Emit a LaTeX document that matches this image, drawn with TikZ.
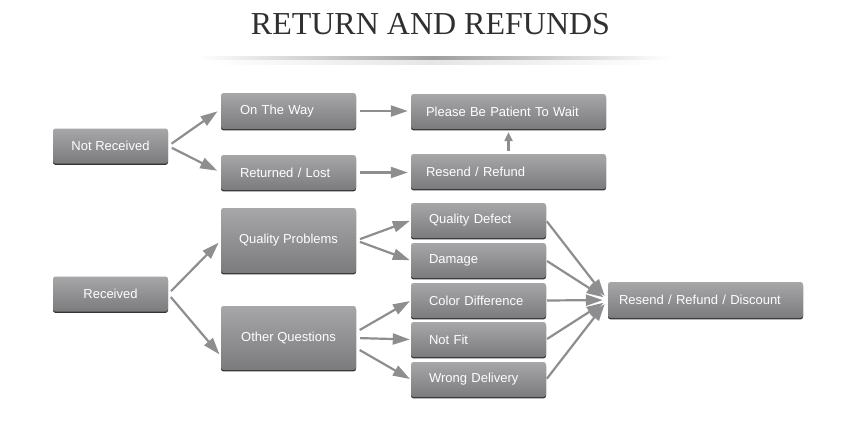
\documentclass[tikz,border=0pt]{standalone}
\usepackage{fontspec}
\usetikzlibrary{arrows.meta,shadows}
\newfontfamily\boxfont{Liberation Sans}
\newfontfamily\titlefont{Liberation Serif}
\definecolor{boxTop}{HTML}{A7A6A8}
\definecolor{boxBottom}{HTML}{7B7A7C}
\definecolor{arrowGray}{HTML}{8E8D8F}
\definecolor{titleGray}{HTML}{303030}

\begin{document}
\begin{tikzpicture}[x=1pt,y=-1pt,%%
  boxStyle/.style={rounded corners=2.5pt,top color=boxTop,bottom color=boxBottom,
    text=white,font=\boxfont\fontsize{13}{15}\selectfont,inner ysep=0pt,
    minimum height=35pt,
    drop shadow={shadow xshift=0pt,shadow yshift=-1.4pt,fill=black!80,opacity=1}},
  midBoxStyle/.style={boxStyle,align=center,inner xsep=0pt,minimum width=#1},
  padBoxStyle/.style 2 args={boxStyle,align=left,inner xsep=#2,text width=#1},
  arrowStyle/.style={-{Triangle[length=17pt,width=11pt]},line width=2.2pt,
    draw=arrowGray,shorten <=4pt,shorten >=1pt},
  upArrowStyle/.style={-{Triangle[length=9pt,width=8pt]},line width=2.2pt,
    draw=arrowGray,shorten <=3pt,shorten >=3pt},
  titleStyle/.style={font=\titlefont\fontsize{32}{36}\selectfont,text=titleGray,
    anchor=base,inner sep=0pt}
]
%%
%%
\useasboundingbox (0,0) rectangle (859,424);
\pgfmathsetmacro{\smallW}{135}
\pgfmathsetmacro{\wideW}{195}
\pgfmathsetmacro{\wayTW}{\smallW-2*19}
\pgfmathsetmacro{\waitTW}{\wideW-2*15}
\pgfmathsetmacro{\causeTW}{\smallW-2*18}
\pgfmathsetmacro{\endTW}{\wideW-2*11}
%%
%% The title and the shadow line below it.
%%
\node[titleStyle] (title) at (430.5,34) {RETURN AND REFUNDS};
\shade[left color=white,right color=white,middle color=black!38]
  (197,56.5) rectangle (670,60);
\shade[left color=white,right color=white,middle color=black!10]
  (205,60) rectangle (662,64);
%%
%% Not received.
%%
\node[midBoxStyle=115pt] (notRec) at (110.5,146) {Not Received};
\node[padBoxStyle={\wayTW pt}{19pt},minimum height=36pt] (onWay) at (288.5,111) {On The Way};
\node[padBoxStyle={\wayTW pt}{19pt}] (retLost) at (288.5,172.5) {Returned / Lost};
\node[padBoxStyle={\waitTW pt}{15pt}] (patient) at (508.5,111.5) {Please Be Patient To Wait};
\node[padBoxStyle={\waitTW pt}{15pt}] (resend) at (508.5,171.5) {Resend / Refund};
%% Its arrows.
\draw[arrowStyle,shorten >=4pt] (notRec.east) -- ([yshift=2pt]onWay.west);
\draw[arrowStyle,shorten >=4pt] (notRec.east) -- (retLost.west);
\draw[arrowStyle,shorten >=3pt] (onWay.east) -- (patient.west |- onWay.east);
\draw[arrowStyle,shorten >=3pt] (retLost.east) -- (resend.west |- retLost.east);
\draw[upArrowStyle] (resend.north) -- (patient.south);
%%
%% Received.
%%
\node[midBoxStyle=115pt] (rec) at (110.5,294) {Received};
\node[midBoxStyle=\smallW pt,minimum height=65pt] (qualProb) at (288.5,240.5) {Quality Problems};
\node[midBoxStyle=\smallW pt,minimum height=64pt] (otherQ) at (288.5,338) {Other Questions};
\node[padBoxStyle={\causeTW pt}{18pt}] (defect) at (478.5,220.5) {Quality Defect};
\node[padBoxStyle={\causeTW pt}{18pt}] (damage) at (478.5,260.5) {Damage};
\node[padBoxStyle={\causeTW pt}{18pt}] (colorDiff) at (478.5,300.5) {Color Difference};
\node[padBoxStyle={\causeTW pt}{18pt}] (notFit) at (478.5,339.5) {Not Fit};
\node[padBoxStyle={\causeTW pt}{18pt}] (wrongDel) at (478.5,379.5) {Wrong Delivery};
\node[padBoxStyle={\endTW pt}{11pt},minimum height=36pt] (final) at (705.5,300) {Resend / Refund / Discount};
%% Its arrows.
\draw[arrowStyle,shorten >=3pt] (rec.east) -- (qualProb.west);
\draw[arrowStyle,shorten >=2pt] (rec.east) -- ([yshift=-18pt]otherQ.west);
\draw[arrowStyle] (qualProb.east) -- (defect.west);
\draw[arrowStyle] (qualProb.east) -- (damage.west);
\draw[arrowStyle] ([yshift=6pt]otherQ.east) -- (colorDiff.west);
\draw[arrowStyle] (otherQ.east) -- (notFit.west);
\draw[arrowStyle] ([yshift=-10pt]otherQ.east) -- (wrongDel.west);
\foreach \cause in {defect,damage,colorDiff,notFit,wrongDel}
  \draw[arrowStyle,shorten <=1pt,shorten >=5pt] (\cause.east) -- (final.west);
\end{tikzpicture}
\end{document}
